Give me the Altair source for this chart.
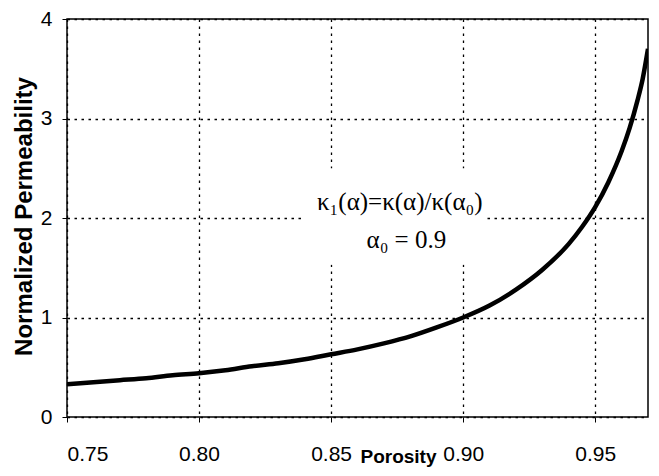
import altair as alt
import pandas as pd

# Data
porosity = [0.75, 0.76, 0.77, 0.78, 0.79, 0.80, 0.81, 0.82, 0.83, 0.84, 0.85,
            0.86, 0.87, 0.88, 0.89, 0.90, 0.91, 0.92, 0.93, 0.94, 0.945,
            0.95, 0.955, 0.96, 0.963, 0.966, 0.968, 0.97]
permeability = [0.33, 0.35, 0.37, 0.39, 0.42, 0.44, 0.47, 0.51, 0.54, 0.58, 0.63,
                0.68, 0.74, 0.81, 0.90, 1.00, 1.12, 1.28, 1.48, 1.74, 1.91,
                2.11, 2.36, 2.67, 2.90, 3.18, 3.40, 3.70]

x_ticks = [0.75, 0.80, 0.85, 0.90, 0.95]
y_ticks = [0, 1, 2, 3, 4]

note_lines = ["κ₁(α)=κ(α)/κ(α₀)", "α₀ = 0.9"]
note_x = [0.876, 0.8785]
note_y = [2.16, 1.78]

# white backing box behind the note (data units)
box_x = [0.839]
box_x2 = [0.909]
box_y = [1.53]
box_y2 = [2.50]

df = pd.DataFrame({"x": porosity, "y": permeability})
notes = pd.DataFrame({"x": note_x, "y": note_y, "t": note_lines})
box = pd.DataFrame({"x": box_x, "x2": box_x2, "y": box_y, "y2": box_y2})

xscale = alt.Scale(domain=[0.75, 0.97], nice=False, zero=False)
yscale = alt.Scale(domain=[0, 4], nice=False)

label_font = "Liberation Sans Narrow, Arial Narrow, Liberation Sans, sans-serif"

x_axis = alt.Axis(values=x_ticks, format=".2f", title="Porosity",
                  titleX=331, titleY=45, titleAlign="center",
                  titleBaseline="alphabetic", titleFontSize=19,
                  labelPadding=21, labelFontSize=21)
y_axis = alt.Axis(values=y_ticks, format="d", title="Normalized Permeability",
                  titleX=-43, titleY=197, titleAngle=-90,
                  titleAlign="center", titleBaseline="middle",
                  titleFontSize=24, labelPadding=10, labelFontSize=21)

X = alt.X("x:Q", scale=xscale, axis=x_axis)
Y = alt.Y("y:Q", scale=yscale, axis=y_axis)

line = alt.Chart(df).mark_line(
    color="black", strokeWidth=4.5, interpolate="monotone", clip=True
).encode(x=X, y=Y)

rect = alt.Chart(box).mark_rect(color="white", opacity=1).encode(
    x=X, x2="x2:Q", y=Y, y2="y2:Q",
)

text = alt.Chart(notes).mark_text(
    font="Liberation Serif, Times New Roman, DejaVu Serif, serif",
    fontSize=25, color="black", align="center", baseline="middle"
).encode(x=X, y=Y, text="t:N")

chart = alt.layer(rect, text, line).properties(
    width=581, height=398,
    padding={"left": 59, "top": 11, "right": 3, "bottom": 50},
    autosize=alt.AutoSizeParams(type="none"),
).configure_view(
    stroke="black", strokeWidth=1.5
).configure_axis(
    domain=False,
    grid=True,
    gridColor="black",
    gridOpacity=1,
    gridDash=[2.5, 4.5],
    gridWidth=1.3,
    ticks=True,
    tickColor="black",
    tickSize=5,
    tickWidth=1,
    labelColor="black",
    labelFont=label_font,
    titleFont="Liberation Sans, Arial, sans-serif",
    titleFontWeight="bold",
    titleColor="black",
)

chart.save("out.html", embed_options={"renderer": "svg", "actions": False})
